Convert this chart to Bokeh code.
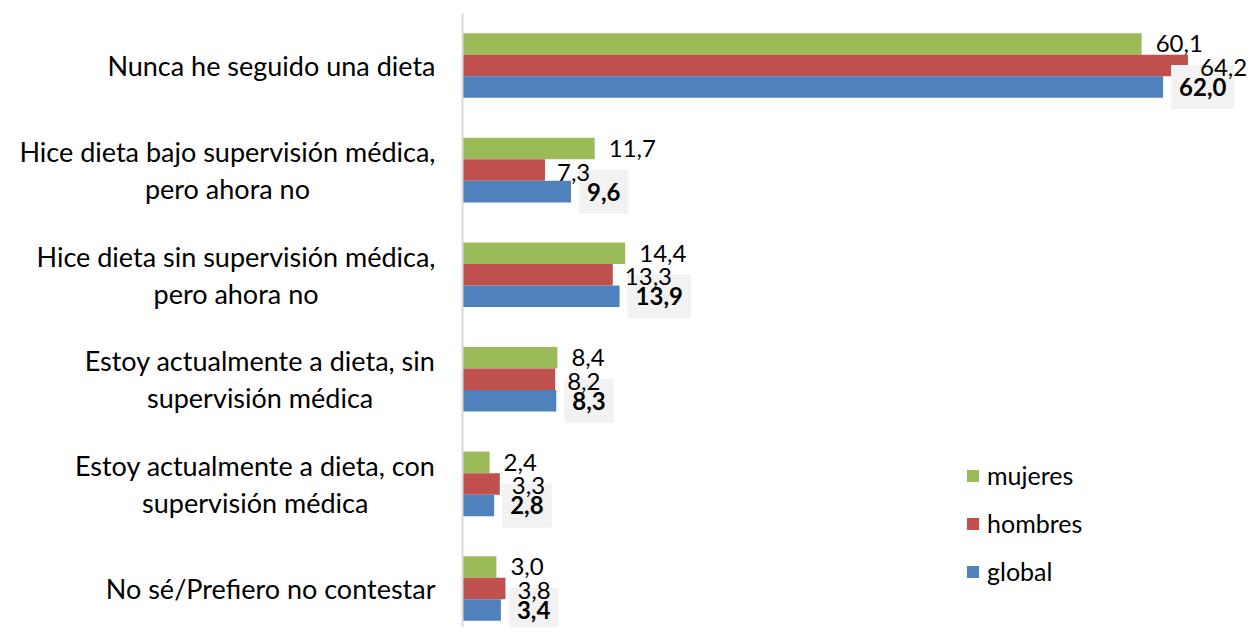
from bokeh.plotting import figure
from bokeh.models import Range1d, ColumnDataSource, Legend, LegendItem
from bokeh.core.properties import value
from bokeh.transform import dodge
from bokeh.embed import file_html
from bokeh.resources import INLINE

categories = [
    "Nunca he seguido una dieta",
    "Hice dieta bajo supervisión médica,\npero ahora no",
    "Hice dieta sin supervisión médica,\npero ahora no",
    "Estoy actualmente a dieta, sin\nsupervisión médica",
    "Estoy actualmente a dieta, con\nsupervisión médica",
    "No sé/Prefiero no contestar",
]
mujeres = [60.1, 11.7, 14.4, 8.4, 2.4, 3.0]
hombres = [64.2, 7.3, 13.3, 8.2, 3.3, 3.8]
global_ = [62.0, 9.6, 13.9, 8.3, 2.8, 3.4]
series_names = ["mujeres", "hombres", "global"]
colors = ["#9BBB59", "#C0504D", "#4F81BD"]

FONT = "Lato"
W, H = 1248, 627
AX_PX = 462          # pixel position of the zero line inside the figure
PX_PER_UNIT = 11.3
BAND_PX = 104.6
FIRST_CENTER_PX = 65
BAR_H = 0.206

idx = list(range(len(categories)))
fmt = lambda v: f"{v:.1f}".replace(".", ",")

src = ColumnDataSource(dict(
    idx=idx, cat=categories,
    mujeres=mujeres, hombres=hombres, glob=global_,
    l_m=[fmt(v) for v in mujeres],
    l_h=[fmt(v) for v in hombres],
    l_g=[fmt(v) for v in global_],
    zero=[0] * len(idx),
))

x_range = Range1d(-AX_PX / PX_PER_UNIT, (W - AX_PX) / PX_PER_UNIT)
top = -FIRST_CENTER_PX / BAND_PX
bottom = top + H / BAND_PX
y_range = Range1d(bottom, top)

p = figure(width=W, height=H, x_range=x_range, y_range=y_range,
           output_backend="svg", toolbar_location=None, min_border=0)
p.axis.visible = False
p.grid.visible = False
p.outline_line_color = None
p.background_fill_color = "white"

renderers = []
for k, (col, c) in enumerate(zip(["mujeres", "hombres", "glob"], colors)):
    r = p.hbar(y=dodge("idx", (k - 1) * BAR_H, range=p.y_range), right=col, left=0,
               height=BAR_H, source=src, fill_color=c, line_color=None)
    renderers.append(r)

# zero line
p.segment(x0=0, y0=-0.5, x1=0, y1=bottom + 1, line_color="#D9D9D9", line_width=2)

# value labels (global first so that its box sits under the others)
p.text(x="glob", y=dodge("idx", BAR_H, range=p.y_range), text="l_g", source=src,
       x_offset=8, text_baseline="middle", text_align="left",
       text_font=value(FONT), text_font_size="24px", text_font_style="bold",
       text_color="black", background_fill_color="#F2F2F2",
       padding=dict(left=8, right=8, top=13, bottom=13))
p.text(x="hombres", y=dodge("idx", 0.02, range=p.y_range), text="l_h", source=src,
       x_offset=12, text_baseline="middle", text_align="left",
       text_font=value(FONT), text_font_size="24px", text_color="black")
p.text(x="mujeres", y=dodge("idx", -BAR_H, range=p.y_range), text="l_m", source=src,
       x_offset=14, text_baseline="middle", text_align="left",
       text_font=value(FONT), text_font_size="24px", text_color="black")

# category labels
p.text(x="zero", y="idx", text="cat", source=src, x_offset=-27,
       anchor="center_right", text_align="center", text_baseline="middle",
       text_line_height=1.13,
       text_font=value(FONT), text_font_size="27px", text_color="black")

legend = Legend(items=[LegendItem(label=n, renderers=[r]) for n, r in zip(series_names, renderers)],
                location=(965, 41), orientation="vertical",
                glyph_width=15, glyph_height=15, label_height=20, spacing=18,
                label_standoff=7, padding=0, margin=0,
                label_text_font=FONT, label_text_font_size="25px",
                label_text_color="black",
                border_line_color=None, background_fill_alpha=0)
p.add_layout(legend)

open("out.html", "w").write(file_html(p, INLINE))
